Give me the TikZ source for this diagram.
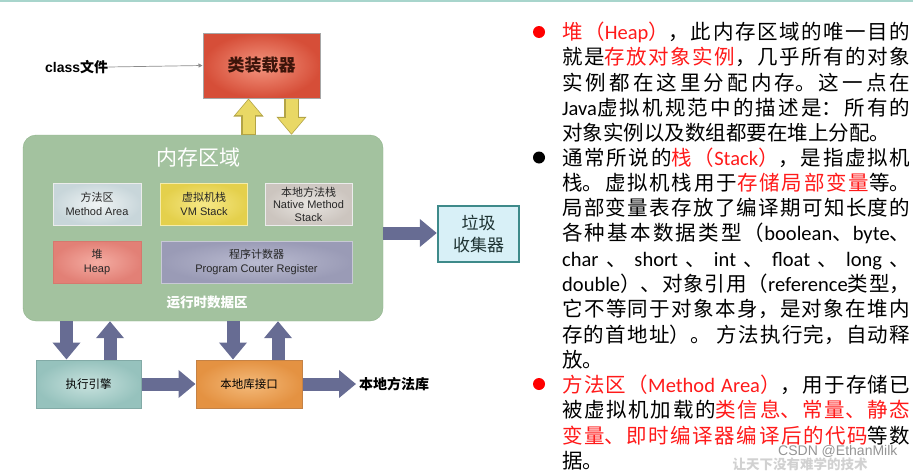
\documentclass[tikz,border=0pt]{standalone}
\usepackage{fontspec}
\setmainfont{Noto Sans CJK SC}
\newfontfamily\latn{Carlito}
\newfontfamily\arialf{Liberation Sans}
\usetikzlibrary{arrows.meta,calc}
\XeTeXlinebreaklocale "zh"
\XeTeXlinebreakskip=0pt plus 2pt minus 1pt
\definecolor{topline}{HTML}{A8D5CC}
\definecolor{memgreen}{HTML}{A3C29F}
\definecolor{memedge}{HTML}{8FB38B}
\definecolor{slate}{HTML}{676C93}
\definecolor{yfill}{HTML}{E9D865}
\definecolor{yedge}{HTML}{B3A446}
\definecolor{gcedge}{HTML}{3E8A8A}
\definecolor{gcfill}{HTML}{D8F0F7}
\definecolor{txtred}{HTML}{FF1A1A}
\newcommand\lat[1]{{\latn #1}}
\newcommand\rd[1]{{\color{txtred}#1}}
\tikzset{
  box/.style={draw, line width=1pt, inner sep=0pt, align=center},
  inbox/.style={box, minimum height=42pt, font=\fontsize{11}{14}\selectfont, text=black!85},
  bigarrow/.style={draw=slate, line width=13pt, -{Triangle[width=27pt,length=17pt]}},
  yarrowedge/.style={draw=yedge, line width=14.5pt, -{Triangle[width=29pt,length=18pt]}},
  yarrowfill/.style={draw=yfill, line width=12pt, -{Triangle[width=25pt,length=15.5pt]}, shorten >=1.2pt, shorten <=0.8pt},
  bullettext/.style={anchor=base west, inner sep=0pt, text width=348pt, align=justify,
    font=\fontsize{20.5}{25.3}\selectfont},
  bulletdot/.style={circle, inner sep=0pt, minimum size=12pt}
}
\begin{document}
\begin{tikzpicture}[x=1pt,y=-1pt]
\useasboundingbox (0,0) rectangle (913,471);
% top rule
\coordinate (tl) at (0,0.8);
\coordinate (tr) at (913,0.8);
\draw[topline, line width=1.6pt] (tl) -- (tr);

% class loader
\node[box, draw=black!35, shading=radial, inner color={rgb,255:red,244;green,150;blue,128}, outer color={rgb,255:red,214;green,78;blue,56},
  minimum width=117pt, minimum height=65pt, font=\bfseries\fontsize{17}{17}\selectfont, text={rgb,255:red,60;green,20;blue,10}]
  (loader) at (261.5,65.5) {类装载器};
\node[anchor=west, inner sep=0pt, font=\bfseries\fontsize{14}{14}\selectfont] (cls) at (45,67) {{\arialf\bfseries class}文件};
\draw[draw=black!45, line width=0.7pt, -{Triangle[width=4pt,length=4pt]}] (cls.east) -- (loader.west);

% memory area
\node[draw=memedge, fill=memgreen, rounded corners=13pt, minimum width=360pt, minimum height=186pt, inner sep=0pt] (mem) at (203,228) {};
\node[text=white, font=\fontsize{21}{21}\selectfont, inner sep=0pt] (memtitle) at (198,158) {内存区域};
\node[inbox, draw=white!85!gray, shading=radial, inner color={rgb,255:red,240;green,244;blue,245}, outer color={rgb,255:red,200;green,214;blue,218}, minimum width=88pt]
  (ma) at (97,204) {方法区\\{\arialf Method Area}};
\node[inbox, draw={rgb,255:red,245;green,236;blue,170}, shading=radial, inner color={rgb,255:red,246;green,232;blue,135}, outer color={rgb,255:red,228;green,208;blue,76}, minimum width=87pt]
  (vm) at (204,204) {虚拟机栈\\{\arialf VM Stack}};
\node[inbox, draw=white!85!gray, shading=radial, inner color={rgb,255:red,232;green,229;blue,225}, outer color={rgb,255:red,204;green,197;blue,191}, minimum width=87pt, font=\fontsize{11}{12.5}\selectfont]
  (nms) at (308.5,204) {本地方法栈\\{\arialf Native Method}\\{\arialf Stack}};
\node[inbox, draw={rgb,255:red,214;green,120;blue,110}, shading=radial, inner color={rgb,255:red,244;green,172;blue,162}, outer color={rgb,255:red,226;green,128;blue,118}, minimum width=88pt]
  (heap) at (97,262) {堆\\{\arialf Heap}};
\node[inbox, draw={rgb,255:red,200;green,201;blue,214}, shading=radial, inner color={rgb,255:red,186;green,187;blue,208}, outer color={rgb,255:red,154;green,155;blue,182}, minimum width=191pt]
  (pc) at (256.5,262) {程序计数器\\{\arialf Program Couter Register}};
\node[text=white, font=\bfseries\fontsize{13.5}{13.5}\selectfont, inner sep=0pt] (rt) at (207,302) {运行时数据区};

% lower boxes
\node[box, draw={rgb,255:red,130;green,170;blue,166}, shading=radial, inner color={rgb,255:red,200;green,226;blue,222}, outer color={rgb,255:red,150;green,194;blue,189},
  minimum width=105pt, minimum height=48pt, font=\fontsize{11.5}{11.5}\selectfont] (exec) at (88.5,384) {执行引擎};
\node[box, draw={rgb,255:red,196;green,130;blue,70}, shading=radial, inner color={rgb,255:red,244;green,186;blue,122}, outer color={rgb,255:red,228;green,146;blue,66},
  minimum width=106pt, minimum height=48pt, font=\fontsize{11.5}{11.5}\selectfont] (nif) at (249,384) {本地库接口};
\node[anchor=west, inner sep=0pt, font=\bfseries\fontsize{14}{14}\selectfont] (nlib) at (359,384) {本地方法库};

% garbage collector
\node[box, draw=gcedge, line width=2.4pt, fill=gcfill, minimum width=81pt, minimum height=56pt,
  font=\fontsize{17}{22}\selectfont, text={rgb,255:red,30;green,50;blue,50}] (gc) at (478.5,234) {垃圾\\收集器};

% yellow arrows between memory area and class loader
\draw[yarrowedge] ($(mem.north -| loader.south)+(-13,0)$) -- ($(loader.south)+(-13,0)$);
\draw[yarrowfill] ($(mem.north -| loader.south)+(-13,0)$) -- ($(loader.south)+(-13,0)$);
\draw[yarrowedge] ($(loader.south)+(30,0)$) -- ($(mem.north -| loader.south)+(30,0)$);
\draw[yarrowfill] ($(loader.south)+(30,0)$) -- ($(mem.north -| loader.south)+(30,0)$);

% slate arrows
\draw[bigarrow] ($(mem.south -| exec.north)+(-22,0)$) -- ($(exec.north)+(-22,0)$);
\draw[bigarrow] ($(exec.north)+(21.5,0)$) -- ($(mem.south -| exec.north)+(21.5,0)$);
\draw[bigarrow] ($(mem.south -| nif.north)+(-16,0)$) -- ($(nif.north)+(-16,0)$);
\draw[bigarrow] ($(nif.north)+(29,0)$) -- ($(mem.south -| nif.north)+(29,0)$);
\draw[bigarrow] (exec.east) -- (nif.west);
\draw[bigarrow] (nif.east) -- ([xshift=-3pt]nlib.west);
\draw[bigarrow] ($(mem.east |- gc.west)+(0,-1)$) -- ($(gc.west)+(0,-1)$);

% right-hand text
\node[bulletdot, fill=red] (b1) at (539,32) {};
\node[bulletdot, fill=black] (b2) at (539,157.5) {};
\node[bulletdot, fill=red] (b3) at (539,384) {};

\node[bullettext] (t1) at (562,39.5) {\rd{堆（\lat{Heap}）}，此内存区域的唯一目的\linebreak
就是\rd{存放对象实例}，几乎所有的对象\linebreak
实例都在这里分配内存。这一点在\linebreak
\lat{Java}虚拟机规范中的描述是：所有的\linebreak
对象实例以及数组都要在堆上分配。};

\node[bullettext] (t2) at (562,165) {通常所说的\rd{栈（\lat{Stack}）}，是指虚拟机\linebreak
栈。虚拟机栈用于\rd{存储局部变量}等。\linebreak
局部变量表存放了编译期可知长度的\linebreak
各种基本数据类型（\lat{boolean}、\lat{byte}、\linebreak
\lat{char} 、 \lat{short} 、 \lat{int} 、 \lat{float} 、 \lat{long} 、\linebreak
\lat{double}）、对象引用（\lat{reference}类型，\linebreak
它不等同于对象本身，是对象在堆内\linebreak
存的首地址）。 方法执行完，自动释\linebreak
放。};

\node[bullettext] (t3) at (562,392.5) {\rd{方法区（\lat{Method Area}）}，用于存储已\linebreak
被虚拟机加载的\rd{类信息、常量、静态}\linebreak
\rd{变量、即时编译器编译后的代码}等数\linebreak
据。};

% watermarks
\node[inner sep=0pt, text=black!18, font=\bfseries\fontsize{13.5}{13.5}\selectfont] (wm2) at (800,464.5) {让天下没有难学的技术};
\node[anchor=west, inner sep=0pt, text=black!42, font=\arialf\fontsize{14}{14}\selectfont] (wm) at (778,451) {CSDN @EthanMilk};
\end{tikzpicture}
\end{document}
